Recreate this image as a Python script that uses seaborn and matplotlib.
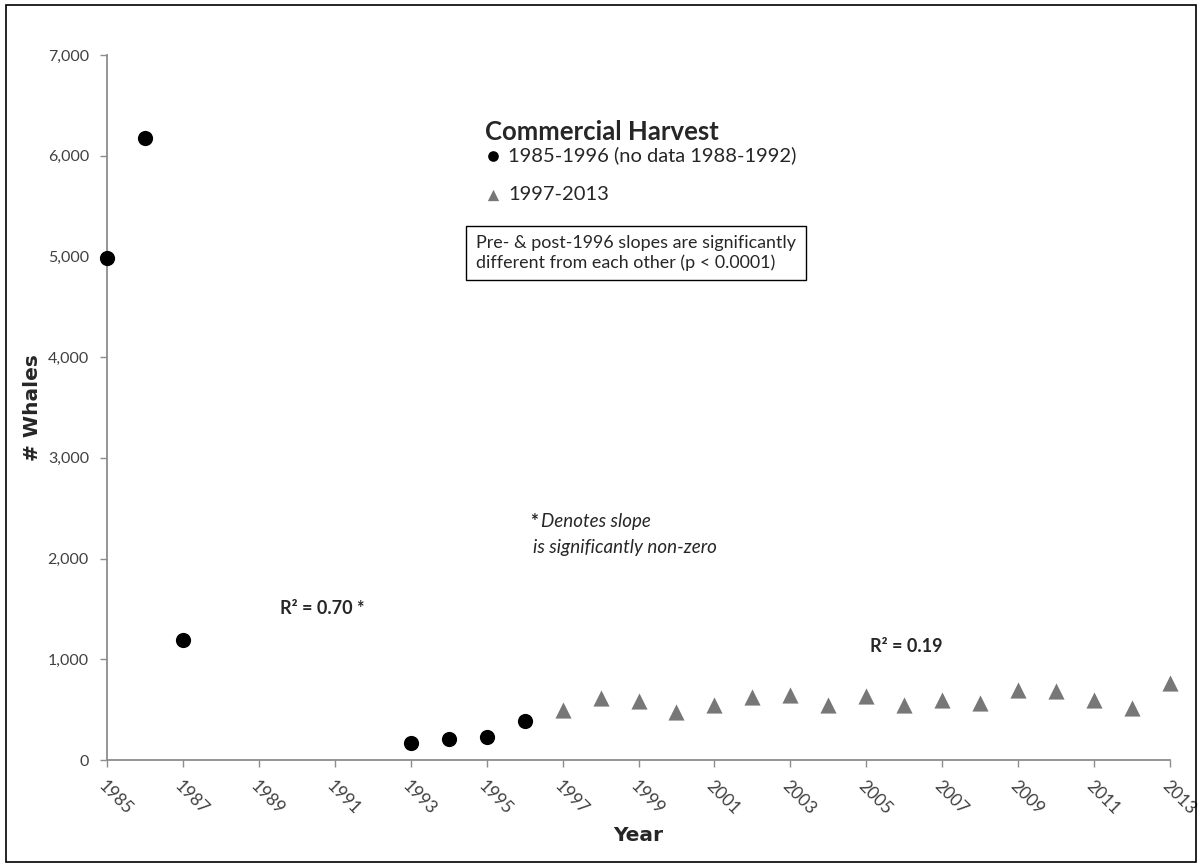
import matplotlib.pyplot as plt
import matplotlib.patches as mpatches
import matplotlib.ticker as mticker
import pandas as pd
import seaborn as sns

# catture commerciali: 1985-1996 (mancano 1988-1992) e 1997-2013
years_pre = [1985, 1986, 1987, 1993, 1994, 1995, 1996]
whales_pre = [4980, 6180, 1195, 170, 210, 225, 390]
years_post = [1997, 1998, 1999, 2000, 2001, 2002, 2003, 2004, 2005,
              2006, 2007, 2008, 2009, 2010, 2011, 2012, 2013]
whales_post = [500, 620, 590, 475, 545, 630, 645, 545, 635,
               545, 600, 568, 692, 682, 593, 513, 767]
year_ticks = list(range(1985, 2014, 2))
whale_ticks = list(range(0, 7001, 1000))

df_pre = pd.DataFrame({"Year": years_pre, "Whales": whales_pre})
df_post = pd.DataFrame({"Year": years_post, "Whales": whales_post})

sns.set_style("white")
plt.rcParams["font.family"] = ["Lato", "DejaVu Sans"]

W, H = 1201, 863
fig = plt.figure(figsize=(W / 100, H / 100), dpi=100)
ax = fig.add_axes([107 / W, 1 - 760 / H, (1170 - 107) / W, (760 - 55) / H])

sns.scatterplot(data=df_pre, x="Year", y="Whales", ax=ax, marker="o", s=120,
                color="black", edgecolor="black", linewidth=0,
                label="1985-1996 (no data 1988-1992)", clip_on=False, zorder=3)
sns.scatterplot(data=df_post, x="Year", y="Whales", ax=ax, marker="^", s=135,
                color="#777777", edgecolor="#777777", linewidth=0,
                label="1997-2013", clip_on=False, zorder=3)

ax.set_xlim(1985, 2013)
ax.set_ylim(0, 7000)
ax.set_xticks(year_ticks)
ax.set_yticks(whale_ticks)
ax.yaxis.set_major_formatter(mticker.StrMethodFormatter("{x:,.0f}"))

for s in ["top", "right"]:
    ax.spines[s].set_visible(False)
for s in ["left", "bottom"]:
    ax.spines[s].set_color("#8c8c8c")
    ax.spines[s].set_linewidth(1.3)

ax.tick_params(axis="both", direction="out", length=5, width=1, color="#8c8c8c",
               labelcolor="#404040")
ax.tick_params(axis="x", bottom=True, pad=8, labelsize=12.5)
ax.tick_params(axis="y", left=True, pad=8, labelsize=11.5)
for lab in ax.get_xticklabels():
    lab.set_rotation(-45)
    lab.set_ha("left")
    lab.set_va("top")
    lab.set_rotation_mode("anchor")

ax.set_xlabel("Year", fontsize=14.5, fontweight="bold", family="DejaVu Sans")
ax.xaxis.set_label_coords(0.5, (760 - 826) / 705)
ax.set_ylabel("# Whales", fontsize=14.5, fontweight="bold", family="DejaVu Sans")
ax.yaxis.set_label_coords((42 - 107) / 1063, 0.5)

# titolo della legenda e voci
fig.text(485 / W, 1 - 132 / H, "Commercial Harvest", fontsize=18.5,
         fontweight="bold", ha="left", va="center")
leg = ax.legend(loc="upper left",
                bbox_to_anchor=(485 / W, 1 - 146 / H), bbox_transform=fig.transFigure,
                frameon=False, borderpad=0, borderaxespad=0, fontsize=14.5,
                handlelength=0.8, handletextpad=0.35,
                labelspacing=1.1, markerscale=0.7)

fig.text(476 / W, 1 - 253 / H,
         "Pre- & post-1996 slopes are significantly\ndifferent from each other (p < 0.0001)",
         fontsize=12.9, ha="left", va="center", linespacing=1.2,
         bbox=dict(boxstyle="square,pad=0.55", fc="white", ec="black", lw=1))

fig.text(530 / W, 1 - 521 / H, "*", fontsize=13.5, fontweight="bold",
         ha="left", va="center")
fig.text(541 / W, 1 - 521 / H, "Denotes slope", fontsize=13.5, style="italic",
         ha="left", va="center")
fig.text(533 / W, 1 - 547 / H, "is significantly non-zero", fontsize=13.5,
         style="italic", ha="left", va="center")
fig.text(280 / W, 1 - 608 / H, "R² = 0.70 *", fontsize=13, fontweight="bold",
         ha="left", va="center")
fig.text(870 / W, 1 - 646 / H, "R² = 0.19", fontsize=13, fontweight="bold",
         ha="left", va="center")

# cornice esterna
fig.patches.append(mpatches.Rectangle((6 / W, 1 / H), 1190 / W, 857 / H,
                                      transform=fig.transFigure, fill=False,
                                      ec="black", lw=1.2))

fig.savefig("out.png", dpi=100)
